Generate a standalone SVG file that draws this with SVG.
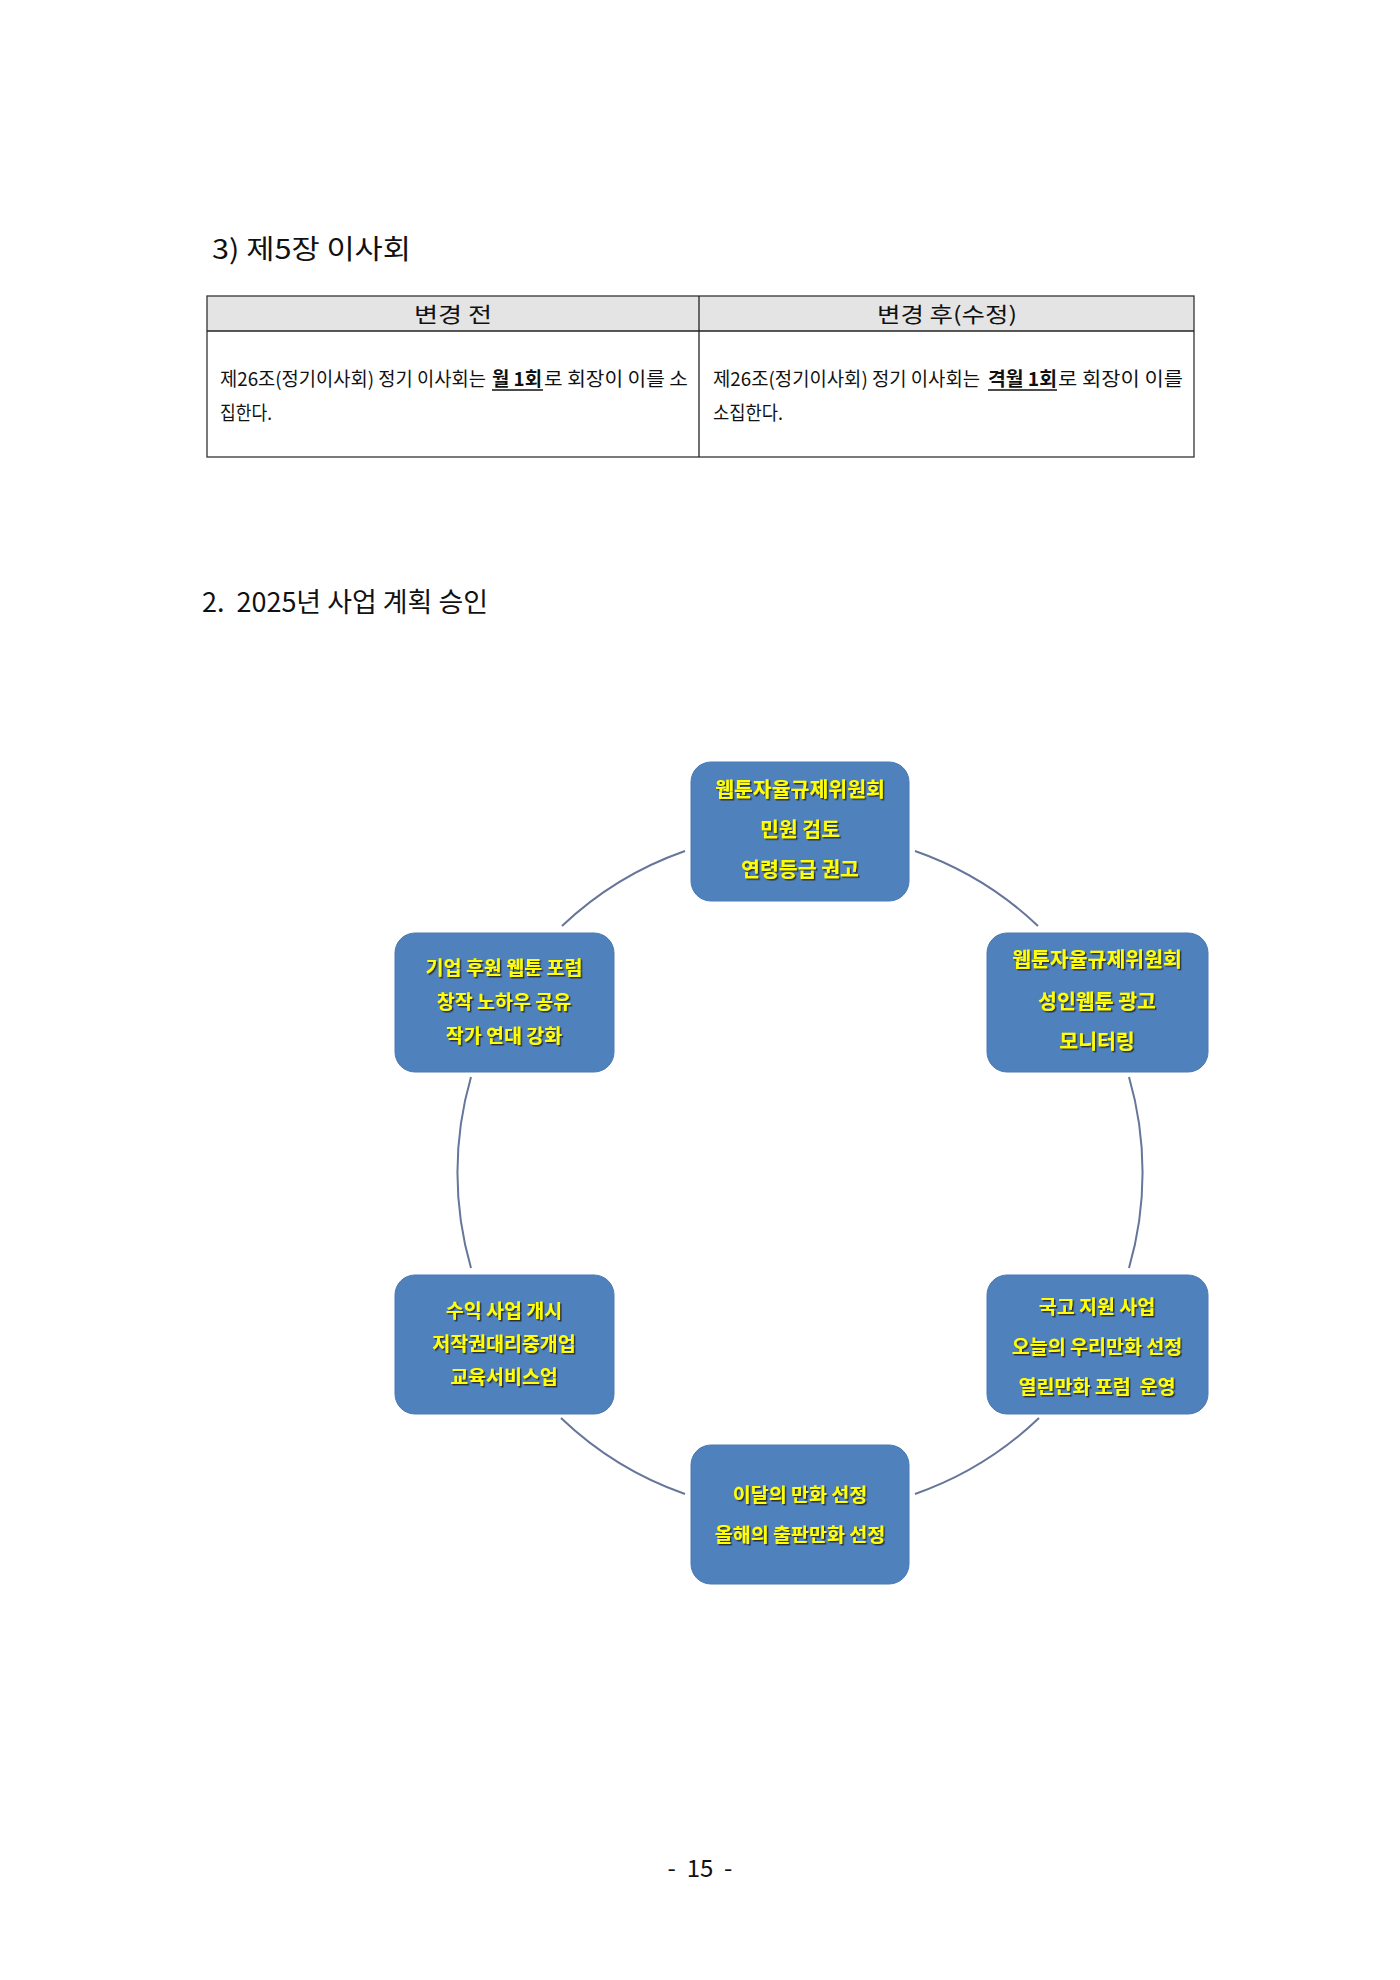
<svg xmlns="http://www.w3.org/2000/svg" width="1400" height="1980" viewBox="0 0 1400 1980">
<style>
.t{font-family:"Noto Sans CJK KR","Noto Sans",sans-serif;fill:#111;}
.ttl{font-size:27px;}
.hd{font-size:21px;text-anchor:start;}
.bd{font-size:19px;}
.b{font-weight:700;}
.node rect{fill:#4f81bd;stroke:#4a7ab5;stroke-width:1;}
.node text{font-family:"Noto Sans CJK KR","Noto Sans",sans-serif;font-size:19.5px;font-weight:700;fill:#ffff00;text-anchor:middle;filter:url(#sh);}
.node .w{font-size:20.5px;}
.conn path{fill:none;stroke:#66769a;stroke-width:2;}
.ul{stroke:#111;stroke-width:1.3;}
</style>
<defs>
<filter id="sh" x="-10%" y="-30%" width="130%" height="170%">
<feDropShadow dx="1.5" dy="1.5" stdDeviation="0.7" flood-color="#2a2a2a" flood-opacity="0.9"/>
</filter>
</defs>
<rect width="1400" height="1980" fill="#ffffff"/>

<text class="t ttl" x="212" y="259" textLength="199" lengthAdjust="spacingAndGlyphs">3) 제5장 이사회</text>

<g id="table">
<rect x="207" y="296" width="987" height="35" fill="#e4e4e4"/>
<rect x="207" y="296" width="987" height="161" fill="none" stroke="#333" stroke-width="1.3"/>
<line x1="207" y1="331" x2="1194" y2="331" stroke="#222" stroke-width="1.3"/>
<line x1="699" y1="296" x2="699" y2="457" stroke="#222" stroke-width="1.3"/>
<text class="t hd" x="414" y="322" textLength="78" lengthAdjust="spacingAndGlyphs">변경 전</text>
<text class="t hd" x="877" y="322" textLength="140" lengthAdjust="spacingAndGlyphs">변경 후(수정)</text>

<text class="t bd" x="220" y="386" textLength="266" lengthAdjust="spacingAndGlyphs">제26조(정기이사회) 정기 이사회는</text>
<text class="t bd b" x="492" y="386" textLength="50" lengthAdjust="spacingAndGlyphs">월 1회</text>
<text class="t bd" x="544" y="386" textLength="144" lengthAdjust="spacingAndGlyphs">로 회장이 이를 소</text>
<line class="ul" x1="492" y1="390" x2="543" y2="390"/>
<text class="t bd" x="220" y="420" textLength="52" lengthAdjust="spacingAndGlyphs">집한다.</text>

<text class="t bd" x="713" y="386" textLength="267" lengthAdjust="spacingAndGlyphs">제26조(정기이사회) 정기 이사회는</text>
<text class="t bd b" x="988" y="386" textLength="69" lengthAdjust="spacingAndGlyphs">격월 1회</text>
<text class="t bd" x="1058" y="386" textLength="125" lengthAdjust="spacingAndGlyphs">로 회장이 이를</text>
<line class="ul" x1="988" y1="390" x2="1057" y2="390"/>
<text class="t bd" x="713" y="420" textLength="70" lengthAdjust="spacingAndGlyphs">소집한다.</text>
</g>

<text class="t ttl" x="202" y="612" textLength="286" lengthAdjust="spacingAndGlyphs" xml:space="preserve">2.  2025년 사업 계획 승인</text>

<g class="conn" id="connectors">
<path d="M 915 851 A 343 343 0 0 1 1038 926"/>
<path d="M 1129 1077 A 343 343 0 0 1 1129 1268"/>
<path d="M 1039 1418 A 343 343 0 0 1 915 1494"/>
<path d="M 685 1494 A 343 343 0 0 1 561 1418"/>
<path d="M 471 1268 A 343 343 0 0 1 471 1077"/>
<path d="M 562 926 A 343 343 0 0 1 685 851"/>
</g>

<g class="node" id="n-top">
<rect x="691" y="762" width="218" height="139" rx="20"/>
<text class="w" x="800" y="797">웹툰자율규제위원회</text>
<text class="w" x="800" y="837">민원 검토</text>
<text class="w" x="800" y="877">연령등급 권고</text>
</g>
<g class="node" id="n-right-upper">
<rect x="987" y="933" width="221" height="139" rx="20"/>
<text class="w" x="1097" y="967">웹툰자율규제위원회</text>
<text class="w" x="1097" y="1009">성인웹툰 광고</text>
<text class="w" x="1097" y="1049">모니터링</text>
</g>
<g class="node" id="n-left-upper">
<rect x="395" y="933" width="219" height="139" rx="20"/>
<text x="504" y="975">기업 후원 웹툰 포럼</text>
<text x="504" y="1009">창작 노하우 공유</text>
<text x="504" y="1043">작가 연대 강화</text>
</g>
<g class="node" id="n-left-lower">
<rect x="395" y="1275" width="219" height="139" rx="20"/>
<text x="504" y="1318">수익 사업 개시</text>
<text x="504" y="1351">저작권대리중개업</text>
<text x="504" y="1384">교육서비스업</text>
</g>
<g class="node" id="n-right-lower">
<rect x="987" y="1275" width="221" height="139" rx="20"/>
<text x="1097" y="1314">국고 지원 사업</text>
<text x="1097" y="1354">오늘의 우리만화 선정</text>
<text x="1097" y="1394" xml:space="preserve">열린만화 포럼  운영</text>
</g>
<g class="node" id="n-bottom">
<rect x="691" y="1445" width="218" height="139" rx="20"/>
<text x="800" y="1502">이달의 만화 선정</text>
<text x="800" y="1542">올해의 출판만화 선정</text>
</g>

<text class="t" x="700" y="1877" font-size="24" text-anchor="middle" xml:space="preserve">-  15  -</text>
</svg>
